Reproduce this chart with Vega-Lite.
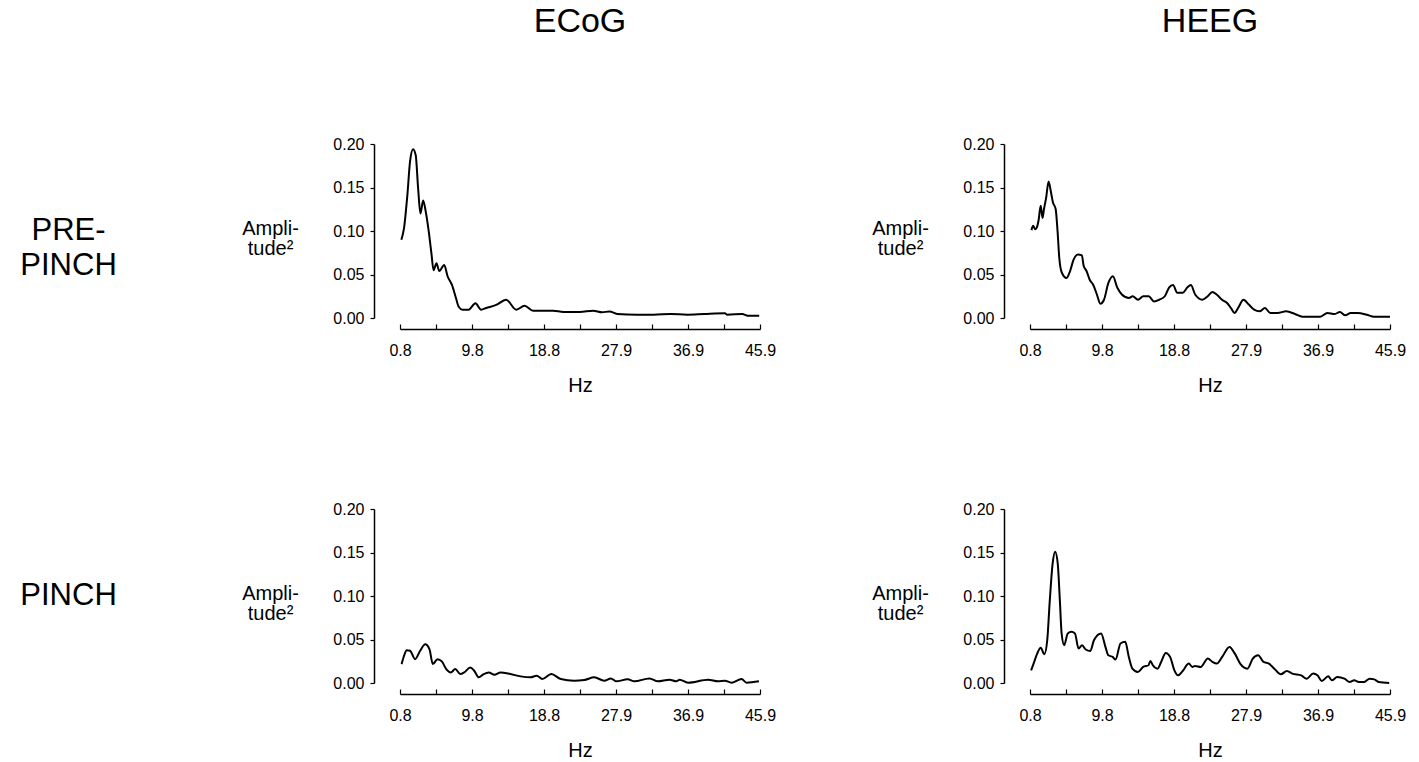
{
"$schema": "https://vega.github.io/schema/vega-lite/v6.json",
"background": "white",
"padding": {"left": 20, "top": 5, "right": 5, "bottom": 5},
"data": {"values": [
{"state":"PRE-PINCH","signal":"ECoG","hz":0.97,"amp":0.09},
{"state":"PRE-PINCH","signal":"ECoG","hz":1.3,"amp":0.103},
{"state":"PRE-PINCH","signal":"ECoG","hz":1.72,"amp":0.141},
{"state":"PRE-PINCH","signal":"ECoG","hz":2.06,"amp":0.18},
{"state":"PRE-PINCH","signal":"ECoG","hz":2.44,"amp":0.194},
{"state":"PRE-PINCH","signal":"ECoG","hz":2.77,"amp":0.187},
{"state":"PRE-PINCH","signal":"ECoG","hz":3.07,"amp":0.149},
{"state":"PRE-PINCH","signal":"ECoG","hz":3.36,"amp":0.12},
{"state":"PRE-PINCH","signal":"ECoG","hz":3.7,"amp":0.135},
{"state":"PRE-PINCH","signal":"ECoG","hz":4.03,"amp":0.122},
{"state":"PRE-PINCH","signal":"ECoG","hz":4.45,"amp":0.096},
{"state":"PRE-PINCH","signal":"ECoG","hz":4.75,"amp":0.073},
{"state":"PRE-PINCH","signal":"ECoG","hz":5.0,"amp":0.055},
{"state":"PRE-PINCH","signal":"ECoG","hz":5.38,"amp":0.063},
{"state":"PRE-PINCH","signal":"ECoG","hz":5.71,"amp":0.054},
{"state":"PRE-PINCH","signal":"ECoG","hz":6.34,"amp":0.061},
{"state":"PRE-PINCH","signal":"ECoG","hz":6.76,"amp":0.048},
{"state":"PRE-PINCH","signal":"ECoG","hz":7.31,"amp":0.038},
{"state":"PRE-PINCH","signal":"ECoG","hz":7.81,"amp":0.023},
{"state":"PRE-PINCH","signal":"ECoG","hz":8.15,"amp":0.013},
{"state":"PRE-PINCH","signal":"ECoG","hz":8.65,"amp":0.0096},
{"state":"PRE-PINCH","signal":"ECoG","hz":9.4,"amp":0.0096},
{"state":"PRE-PINCH","signal":"ECoG","hz":10.25,"amp":0.017},
{"state":"PRE-PINCH","signal":"ECoG","hz":10.96,"amp":0.0096},
{"state":"PRE-PINCH","signal":"ECoG","hz":11.6,"amp":0.0115},
{"state":"PRE-PINCH","signal":"ECoG","hz":12.85,"amp":0.015},
{"state":"PRE-PINCH","signal":"ECoG","hz":14.1,"amp":0.021},
{"state":"PRE-PINCH","signal":"ECoG","hz":15.37,"amp":0.0096},
{"state":"PRE-PINCH","signal":"ECoG","hz":16.4,"amp":0.014},
{"state":"PRE-PINCH","signal":"ECoG","hz":17.47,"amp":0.0084},
{"state":"PRE-PINCH","signal":"ECoG","hz":18.7,"amp":0.0084},
{"state":"PRE-PINCH","signal":"ECoG","hz":20.0,"amp":0.0084},
{"state":"PRE-PINCH","signal":"ECoG","hz":21.25,"amp":0.0069},
{"state":"PRE-PINCH","signal":"ECoG","hz":23.35,"amp":0.0069},
{"state":"PRE-PINCH","signal":"ECoG","hz":25.0,"amp":0.0084},
{"state":"PRE-PINCH","signal":"ECoG","hz":26.1,"amp":0.0065},
{"state":"PRE-PINCH","signal":"ECoG","hz":27.04,"amp":0.0076},
{"state":"PRE-PINCH","signal":"ECoG","hz":28.0,"amp":0.0046},
{"state":"PRE-PINCH","signal":"ECoG","hz":30.5,"amp":0.0038},
{"state":"PRE-PINCH","signal":"ECoG","hz":32.6,"amp":0.0038},
{"state":"PRE-PINCH","signal":"ECoG","hz":34.7,"amp":0.0046},
{"state":"PRE-PINCH","signal":"ECoG","hz":36.8,"amp":0.0038},
{"state":"PRE-PINCH","signal":"ECoG","hz":38.9,"amp":0.0046},
{"state":"PRE-PINCH","signal":"ECoG","hz":41.5,"amp":0.0054},
{"state":"PRE-PINCH","signal":"ECoG","hz":41.8,"amp":0.0038},
{"state":"PRE-PINCH","signal":"ECoG","hz":43.7,"amp":0.0046},
{"state":"PRE-PINCH","signal":"ECoG","hz":44.35,"amp":0.0027},
{"state":"PRE-PINCH","signal":"ECoG","hz":45.8,"amp":0.0027},

{"state":"PRE-PINCH","signal":"HEEG","hz":0.98,"amp":0.101},
{"state":"PRE-PINCH","signal":"HEEG","hz":1.2,"amp":0.106},
{"state":"PRE-PINCH","signal":"HEEG","hz":1.43,"amp":0.102},
{"state":"PRE-PINCH","signal":"HEEG","hz":1.65,"amp":0.104},
{"state":"PRE-PINCH","signal":"HEEG","hz":1.87,"amp":0.112},
{"state":"PRE-PINCH","signal":"HEEG","hz":2.14,"amp":0.129},
{"state":"PRE-PINCH","signal":"HEEG","hz":2.37,"amp":0.115},
{"state":"PRE-PINCH","signal":"HEEG","hz":2.55,"amp":0.125},
{"state":"PRE-PINCH","signal":"HEEG","hz":2.82,"amp":0.138},
{"state":"PRE-PINCH","signal":"HEEG","hz":3.13,"amp":0.157},
{"state":"PRE-PINCH","signal":"HEEG","hz":3.4,"amp":0.146},
{"state":"PRE-PINCH","signal":"HEEG","hz":3.67,"amp":0.133},
{"state":"PRE-PINCH","signal":"HEEG","hz":4.02,"amp":0.125},
{"state":"PRE-PINCH","signal":"HEEG","hz":4.25,"amp":0.1},
{"state":"PRE-PINCH","signal":"HEEG","hz":4.47,"amp":0.069},
{"state":"PRE-PINCH","signal":"HEEG","hz":4.79,"amp":0.052},
{"state":"PRE-PINCH","signal":"HEEG","hz":5.37,"amp":0.046},
{"state":"PRE-PINCH","signal":"HEEG","hz":5.82,"amp":0.054},
{"state":"PRE-PINCH","signal":"HEEG","hz":6.26,"amp":0.067},
{"state":"PRE-PINCH","signal":"HEEG","hz":6.8,"amp":0.073},
{"state":"PRE-PINCH","signal":"HEEG","hz":7.3,"amp":0.072},
{"state":"PRE-PINCH","signal":"HEEG","hz":7.52,"amp":0.06},
{"state":"PRE-PINCH","signal":"HEEG","hz":7.88,"amp":0.054},
{"state":"PRE-PINCH","signal":"HEEG","hz":8.28,"amp":0.044},
{"state":"PRE-PINCH","signal":"HEEG","hz":8.73,"amp":0.038},
{"state":"PRE-PINCH","signal":"HEEG","hz":9.18,"amp":0.027},
{"state":"PRE-PINCH","signal":"HEEG","hz":9.62,"amp":0.0165},
{"state":"PRE-PINCH","signal":"HEEG","hz":10.07,"amp":0.021},
{"state":"PRE-PINCH","signal":"HEEG","hz":10.61,"amp":0.04},
{"state":"PRE-PINCH","signal":"HEEG","hz":11.19,"amp":0.048},
{"state":"PRE-PINCH","signal":"HEEG","hz":11.73,"amp":0.035},
{"state":"PRE-PINCH","signal":"HEEG","hz":12.31,"amp":0.027},
{"state":"PRE-PINCH","signal":"HEEG","hz":13.2,"amp":0.023},
{"state":"PRE-PINCH","signal":"HEEG","hz":13.66,"amp":0.025},
{"state":"PRE-PINCH","signal":"HEEG","hz":14.33,"amp":0.021},
{"state":"PRE-PINCH","signal":"HEEG","hz":15.0,"amp":0.025},
{"state":"PRE-PINCH","signal":"HEEG","hz":15.67,"amp":0.025},
{"state":"PRE-PINCH","signal":"HEEG","hz":16.34,"amp":0.019},
{"state":"PRE-PINCH","signal":"HEEG","hz":17.0,"amp":0.021},
{"state":"PRE-PINCH","signal":"HEEG","hz":17.69,"amp":0.025},
{"state":"PRE-PINCH","signal":"HEEG","hz":18.22,"amp":0.035},
{"state":"PRE-PINCH","signal":"HEEG","hz":18.72,"amp":0.038},
{"state":"PRE-PINCH","signal":"HEEG","hz":19.25,"amp":0.029},
{"state":"PRE-PINCH","signal":"HEEG","hz":19.93,"amp":0.029},
{"state":"PRE-PINCH","signal":"HEEG","hz":20.5,"amp":0.035},
{"state":"PRE-PINCH","signal":"HEEG","hz":20.96,"amp":0.038},
{"state":"PRE-PINCH","signal":"HEEG","hz":21.49,"amp":0.027},
{"state":"PRE-PINCH","signal":"HEEG","hz":22.39,"amp":0.021},
{"state":"PRE-PINCH","signal":"HEEG","hz":23.06,"amp":0.025},
{"state":"PRE-PINCH","signal":"HEEG","hz":23.64,"amp":0.03},
{"state":"PRE-PINCH","signal":"HEEG","hz":24.18,"amp":0.027},
{"state":"PRE-PINCH","signal":"HEEG","hz":24.85,"amp":0.021},
{"state":"PRE-PINCH","signal":"HEEG","hz":25.52,"amp":0.017},
{"state":"PRE-PINCH","signal":"HEEG","hz":25.97,"amp":0.0115},
{"state":"PRE-PINCH","signal":"HEEG","hz":26.42,"amp":0.0058},
{"state":"PRE-PINCH","signal":"HEEG","hz":26.87,"amp":0.0115},
{"state":"PRE-PINCH","signal":"HEEG","hz":27.54,"amp":0.021},
{"state":"PRE-PINCH","signal":"HEEG","hz":28.21,"amp":0.0154},
{"state":"PRE-PINCH","signal":"HEEG","hz":28.88,"amp":0.0096},
{"state":"PRE-PINCH","signal":"HEEG","hz":29.56,"amp":0.0077},
{"state":"PRE-PINCH","signal":"HEEG","hz":30.23,"amp":0.0115},
{"state":"PRE-PINCH","signal":"HEEG","hz":30.9,"amp":0.0058},
{"state":"PRE-PINCH","signal":"HEEG","hz":31.8,"amp":0.0058},
{"state":"PRE-PINCH","signal":"HEEG","hz":32.9,"amp":0.0077},
{"state":"PRE-PINCH","signal":"HEEG","hz":34.0,"amp":0.0046},
{"state":"PRE-PINCH","signal":"HEEG","hz":34.93,"amp":0.0015},
{"state":"PRE-PINCH","signal":"HEEG","hz":37.17,"amp":0.0015},
{"state":"PRE-PINCH","signal":"HEEG","hz":38.06,"amp":0.0058},
{"state":"PRE-PINCH","signal":"HEEG","hz":38.96,"amp":0.0046},
{"state":"PRE-PINCH","signal":"HEEG","hz":39.63,"amp":0.0069},
{"state":"PRE-PINCH","signal":"HEEG","hz":40.3,"amp":0.0031},
{"state":"PRE-PINCH","signal":"HEEG","hz":40.98,"amp":0.0058},
{"state":"PRE-PINCH","signal":"HEEG","hz":41.87,"amp":0.0058},
{"state":"PRE-PINCH","signal":"HEEG","hz":42.99,"amp":0.0038},
{"state":"PRE-PINCH","signal":"HEEG","hz":43.9,"amp":0.0015},
{"state":"PRE-PINCH","signal":"HEEG","hz":45.9,"amp":0.0015},

{"state":"PINCH","signal":"ECoG","hz":1.0,"amp":0.0217},
{"state":"PINCH","signal":"ECoG","hz":1.3,"amp":0.031},
{"state":"PINCH","signal":"ECoG","hz":1.64,"amp":0.0377},
{"state":"PINCH","signal":"ECoG","hz":2.06,"amp":0.037},
{"state":"PINCH","signal":"ECoG","hz":2.69,"amp":0.0274},
{"state":"PINCH","signal":"ECoG","hz":3.32,"amp":0.037},
{"state":"PINCH","signal":"ECoG","hz":3.95,"amp":0.0446},
{"state":"PINCH","signal":"ECoG","hz":4.49,"amp":0.039},
{"state":"PINCH","signal":"ECoG","hz":4.91,"amp":0.0217},
{"state":"PINCH","signal":"ECoG","hz":5.5,"amp":0.0274},
{"state":"PINCH","signal":"ECoG","hz":6.04,"amp":0.0248},
{"state":"PINCH","signal":"ECoG","hz":6.59,"amp":0.016},
{"state":"PINCH","signal":"ECoG","hz":7.18,"amp":0.0122},
{"state":"PINCH","signal":"ECoG","hz":7.72,"amp":0.016},
{"state":"PINCH","signal":"ECoG","hz":8.35,"amp":0.0103},
{"state":"PINCH","signal":"ECoG","hz":8.85,"amp":0.0122},
{"state":"PINCH","signal":"ECoG","hz":9.6,"amp":0.0179},
{"state":"PINCH","signal":"ECoG","hz":10.1,"amp":0.0141},
{"state":"PINCH","signal":"ECoG","hz":10.66,"amp":0.0065},
{"state":"PINCH","signal":"ECoG","hz":11.29,"amp":0.0103},
{"state":"PINCH","signal":"ECoG","hz":11.92,"amp":0.0122},
{"state":"PINCH","signal":"ECoG","hz":12.63,"amp":0.0095},
{"state":"PINCH","signal":"ECoG","hz":13.39,"amp":0.0122},
{"state":"PINCH","signal":"ECoG","hz":14.64,"amp":0.0103},
{"state":"PINCH","signal":"ECoG","hz":15.9,"amp":0.0076},
{"state":"PINCH","signal":"ECoG","hz":17.16,"amp":0.0065},
{"state":"PINCH","signal":"ECoG","hz":17.92,"amp":0.0084},
{"state":"PINCH","signal":"ECoG","hz":18.63,"amp":0.0046},
{"state":"PINCH","signal":"ECoG","hz":19.76,"amp":0.0103},
{"state":"PINCH","signal":"ECoG","hz":20.94,"amp":0.0046},
{"state":"PINCH","signal":"ECoG","hz":22.61,"amp":0.0027},
{"state":"PINCH","signal":"ECoG","hz":23.87,"amp":0.0034},
{"state":"PINCH","signal":"ECoG","hz":25.13,"amp":0.0065},
{"state":"PINCH","signal":"ECoG","hz":26.39,"amp":0.0027},
{"state":"PINCH","signal":"ECoG","hz":27.23,"amp":0.0053},
{"state":"PINCH","signal":"ECoG","hz":27.86,"amp":0.0019},
{"state":"PINCH","signal":"ECoG","hz":29.33,"amp":0.0042},
{"state":"PINCH","signal":"ECoG","hz":30.17,"amp":0.0019},
{"state":"PINCH","signal":"ECoG","hz":32.05,"amp":0.0053},
{"state":"PINCH","signal":"ECoG","hz":33.1,"amp":0.0019},
{"state":"PINCH","signal":"ECoG","hz":34.57,"amp":0.0038},
{"state":"PINCH","signal":"ECoG","hz":35.41,"amp":0.0019},
{"state":"PINCH","signal":"ECoG","hz":35.83,"amp":0.0038},
{"state":"PINCH","signal":"ECoG","hz":36.88,"amp":0.0004},
{"state":"PINCH","signal":"ECoG","hz":39.4,"amp":0.0038},
{"state":"PINCH","signal":"ECoG","hz":40.65,"amp":0.0019},
{"state":"PINCH","signal":"ECoG","hz":41.5,"amp":0.0027},
{"state":"PINCH","signal":"ECoG","hz":42.33,"amp":0.0004},
{"state":"PINCH","signal":"ECoG","hz":43.59,"amp":0.0046},
{"state":"PINCH","signal":"ECoG","hz":44.22,"amp":0.0004},
{"state":"PINCH","signal":"ECoG","hz":45.77,"amp":0.0019},

{"state":"PINCH","signal":"HEEG","hz":0.94,"amp":0.0146},
{"state":"PINCH","signal":"HEEG","hz":1.25,"amp":0.0223},
{"state":"PINCH","signal":"HEEG","hz":1.7,"amp":0.0338},
{"state":"PINCH","signal":"HEEG","hz":2.15,"amp":0.0404},
{"state":"PINCH","signal":"HEEG","hz":2.6,"amp":0.0331},
{"state":"PINCH","signal":"HEEG","hz":2.96,"amp":0.0492},
{"state":"PINCH","signal":"HEEG","hz":3.28,"amp":0.095},
{"state":"PINCH","signal":"HEEG","hz":3.64,"amp":0.1377},
{"state":"PINCH","signal":"HEEG","hz":3.95,"amp":0.151},
{"state":"PINCH","signal":"HEEG","hz":4.27,"amp":0.1377},
{"state":"PINCH","signal":"HEEG","hz":4.54,"amp":0.095},
{"state":"PINCH","signal":"HEEG","hz":4.76,"amp":0.057},
{"state":"PINCH","signal":"HEEG","hz":5.08,"amp":0.0435},
{"state":"PINCH","signal":"HEEG","hz":5.53,"amp":0.057},
{"state":"PINCH","signal":"HEEG","hz":5.98,"amp":0.0588},
{"state":"PINCH","signal":"HEEG","hz":6.43,"amp":0.057},
{"state":"PINCH","signal":"HEEG","hz":6.88,"amp":0.0396},
{"state":"PINCH","signal":"HEEG","hz":7.33,"amp":0.0435},
{"state":"PINCH","signal":"HEEG","hz":7.78,"amp":0.0385},
{"state":"PINCH","signal":"HEEG","hz":8.36,"amp":0.0369},
{"state":"PINCH","signal":"HEEG","hz":8.81,"amp":0.0492},
{"state":"PINCH","signal":"HEEG","hz":9.71,"amp":0.057},
{"state":"PINCH","signal":"HEEG","hz":10.25,"amp":0.0415},
{"state":"PINCH","signal":"HEEG","hz":10.61,"amp":0.0319},
{"state":"PINCH","signal":"HEEG","hz":11.15,"amp":0.03},
{"state":"PINCH","signal":"HEEG","hz":11.51,"amp":0.0269},
{"state":"PINCH","signal":"HEEG","hz":12.14,"amp":0.0454},
{"state":"PINCH","signal":"HEEG","hz":12.73,"amp":0.0473},
{"state":"PINCH","signal":"HEEG","hz":13.18,"amp":0.03},
{"state":"PINCH","signal":"HEEG","hz":13.63,"amp":0.0165},
{"state":"PINCH","signal":"HEEG","hz":14.3,"amp":0.0127},
{"state":"PINCH","signal":"HEEG","hz":14.98,"amp":0.0185},
{"state":"PINCH","signal":"HEEG","hz":15.65,"amp":0.0204},
{"state":"PINCH","signal":"HEEG","hz":15.88,"amp":0.0254},
{"state":"PINCH","signal":"HEEG","hz":16.19,"amp":0.0204},
{"state":"PINCH","signal":"HEEG","hz":16.78,"amp":0.0165},
{"state":"PINCH","signal":"HEEG","hz":17.23,"amp":0.0242},
{"state":"PINCH","signal":"HEEG","hz":17.81,"amp":0.0346},
{"state":"PINCH","signal":"HEEG","hz":18.35,"amp":0.03},
{"state":"PINCH","signal":"HEEG","hz":18.89,"amp":0.0146},
{"state":"PINCH","signal":"HEEG","hz":19.34,"amp":0.0088},
{"state":"PINCH","signal":"HEEG","hz":19.93,"amp":0.0138},
{"state":"PINCH","signal":"HEEG","hz":20.69,"amp":0.0223},
{"state":"PINCH","signal":"HEEG","hz":21.14,"amp":0.0185},
{"state":"PINCH","signal":"HEEG","hz":21.5,"amp":0.0196},
{"state":"PINCH","signal":"HEEG","hz":22.18,"amp":0.0185},
{"state":"PINCH","signal":"HEEG","hz":23.08,"amp":0.0281},
{"state":"PINCH","signal":"HEEG","hz":23.66,"amp":0.0242},
{"state":"PINCH","signal":"HEEG","hz":24.2,"amp":0.0223},
{"state":"PINCH","signal":"HEEG","hz":24.88,"amp":0.03},
{"state":"PINCH","signal":"HEEG","hz":25.78,"amp":0.0415},
{"state":"PINCH","signal":"HEEG","hz":26.46,"amp":0.0338},
{"state":"PINCH","signal":"HEEG","hz":27.13,"amp":0.0223},
{"state":"PINCH","signal":"HEEG","hz":28.03,"amp":0.0165},
{"state":"PINCH","signal":"HEEG","hz":28.71,"amp":0.0281},
{"state":"PINCH","signal":"HEEG","hz":29.38,"amp":0.0319},
{"state":"PINCH","signal":"HEEG","hz":30.06,"amp":0.0242},
{"state":"PINCH","signal":"HEEG","hz":30.73,"amp":0.0223},
{"state":"PINCH","signal":"HEEG","hz":31.41,"amp":0.0165},
{"state":"PINCH","signal":"HEEG","hz":32.22,"amp":0.01},
{"state":"PINCH","signal":"HEEG","hz":32.98,"amp":0.0138},
{"state":"PINCH","signal":"HEEG","hz":33.66,"amp":0.0108},
{"state":"PINCH","signal":"HEEG","hz":34.78,"amp":0.0088},
{"state":"PINCH","signal":"HEEG","hz":35.46,"amp":0.005},
{"state":"PINCH","signal":"HEEG","hz":36.27,"amp":0.0108},
{"state":"PINCH","signal":"HEEG","hz":36.81,"amp":0.0088},
{"state":"PINCH","signal":"HEEG","hz":37.35,"amp":0.0023},
{"state":"PINCH","signal":"HEEG","hz":38.16,"amp":0.0077},
{"state":"PINCH","signal":"HEEG","hz":38.61,"amp":0.0031},
{"state":"PINCH","signal":"HEEG","hz":39.29,"amp":0.0069},
{"state":"PINCH","signal":"HEEG","hz":40.19,"amp":0.005},
{"state":"PINCH","signal":"HEEG","hz":40.86,"amp":0.0012},
{"state":"PINCH","signal":"HEEG","hz":41.41,"amp":0.0031},
{"state":"PINCH","signal":"HEEG","hz":41.99,"amp":0.0012},
{"state":"PINCH","signal":"HEEG","hz":42.67,"amp":0.0012},
{"state":"PINCH","signal":"HEEG","hz":43.35,"amp":0.005},
{"state":"PINCH","signal":"HEEG","hz":43.93,"amp":0.0042},
{"state":"PINCH","signal":"HEEG","hz":44.47,"amp":0.0012},
{"state":"PINCH","signal":"HEEG","hz":45.8,"amp":0.0}
]},
"facet": {
  "row": {"field": "state", "type": "nominal", "sort": ["PRE-PINCH", "PINCH"],
    "header": {"title": null, "labelAngle": 0, "labelOrient": "left", "labelAlign": "center", "labelBaseline": "middle",
      "labelFontSize": 31, "labelFont": "Liberation Sans", "labelColor": "black", "labelPadding": 235, "labelLineHeight": 35,
      "labelExpr": "datum.value == 'PRE-PINCH' ? ['PRE-', 'PINCH'] : datum.value"}},
  "column": {"field": "signal", "type": "nominal", "sort": ["ECoG", "HEEG"],
    "header": {"title": null, "labelFontSize": 34, "labelFont": "Liberation Sans", "labelColor": "black", "labelPadding": 105}}
},
"spacing": {"row": 191, "column": 270},
"bounds": "flush",
"resolve": {"axis": {"x": "independent", "y": "independent"}},
"spec": {
  "width": 360,
  "height": 174,
  "mark": {"type": "line", "color": "black", "strokeWidth": 2, "interpolate": "monotone"},
  "encoding": {
    "x": {"field": "hz", "type": "quantitative",
      "scale": {"domain": [0.8, 45.9], "nice": false, "zero": false},
      "axis": {"values": [0.8, 5.31, 9.82, 14.33, 18.84, 23.35, 27.86, 32.37, 36.88, 41.39, 45.9],
        "labelExpr": "indexof([0.8, 9.82, 18.84, 27.86, 36.88, 45.9], datum.value) >= 0 ? format(datum.value, '.1f') : ''",
        "labelFlush": false, "labelOverlap": false, "offset": 11, "tickSize": -5, "labelPadding": 18,
        "labelFontSize": 16, "title": "Hz", "titleFontSize": 20, "titleFontWeight": "normal",
        "titleY": 46, "titleBaseline": "top"}},
    "y": {"field": "amp", "type": "quantitative",
      "scale": {"domain": [0, 0.2], "nice": false, "zero": true},
      "axis": {"values": [0, 0.05, 0.1, 0.15, 0.2], "format": ".2f", "offset": 26, "tickSize": 4, "labelPadding": 6,
        "labelFontSize": 16, "title": ["Ampli-", "tude²"], "titleAngle": 0, "titleAlign": "center", "titleBaseline": "middle",
        "titleX": -104, "titleY": 84, "titleFontSize": 20, "titleFontWeight": "normal", "titleLineHeight": 20}}
  }
},
"config": {
  "font": "Liberation Sans",
  "view": {"stroke": null},
  "axis": {"grid": false, "domainColor": "black", "tickColor": "black", "labelColor": "black", "titleColor": "black",
    "domainWidth": 1.5, "tickWidth": 1.2, "labelFont": "Liberation Sans", "titleFont": "Liberation Sans"}
}
}
